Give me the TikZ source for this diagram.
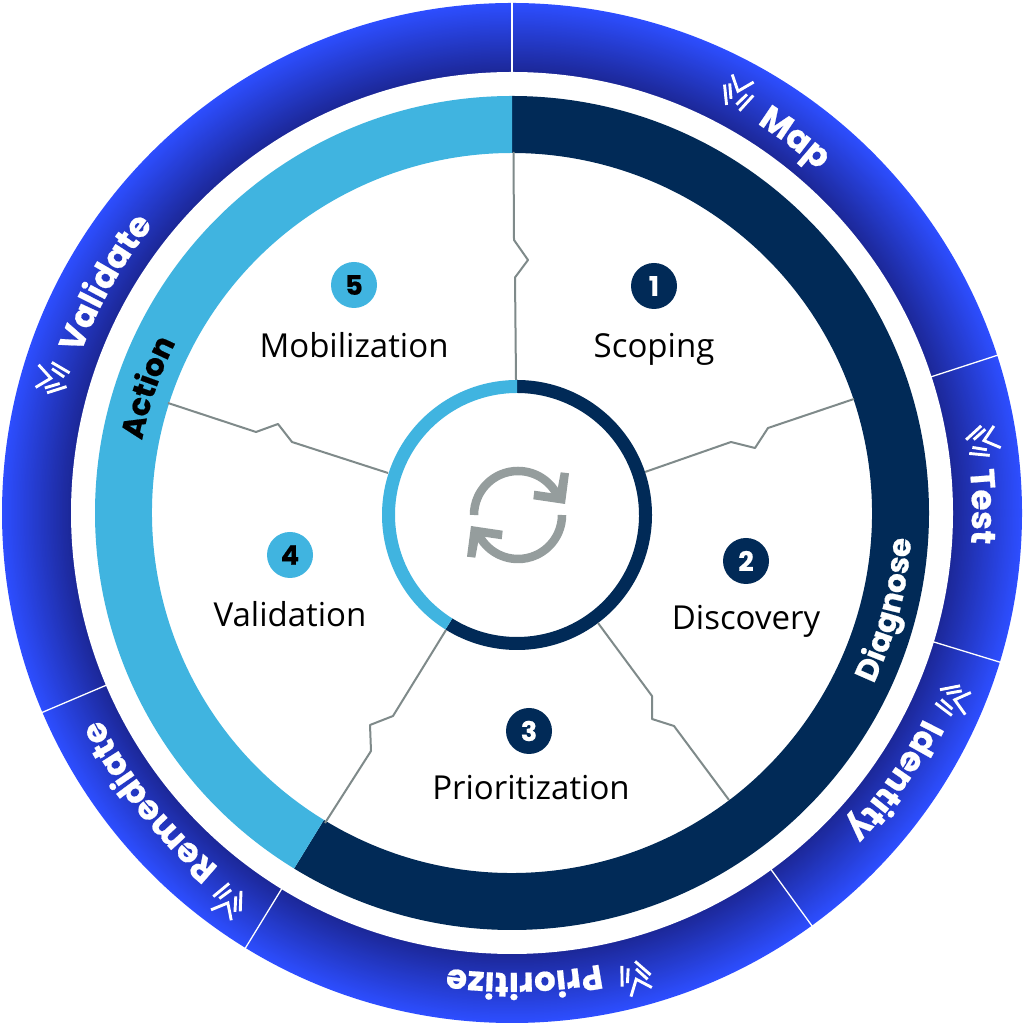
\documentclass[tikz,border=0pt]{standalone}
\usepackage{fontspec}
\usetikzlibrary{decorations.text}
\setmainfont{Open Sans}
\newfontfamily\pop{Poppins}[BoldFeatures={FakeBold=0.6}]
\definecolor{navy}{HTML}{012A57}
\definecolor{sky}{HTML}{40B4E0}
\definecolor{seam}{HTML}{7F8A8A}
\definecolor{loopgrey}{HTML}{959D9D}
\definecolor{ringin}{HTML}{1C2899}
\definecolor{ringout}{HTML}{2D4EFF}
\newcommand\ringfont{\pop\bfseries\fontsize{34}{34}\selectfont\color{white}}
\newcommand\bandwhite{\pop\bfseries\fontsize{31}{31}\selectfont\color{white}}
\newcommand\bandblack{\pop\bfseries\fontsize{31}{31}\selectfont\color{black}}
\newcommand\cwtext[4]{% mid angle, half span, radius, text
  \pgfmathsetmacro\aa{#1+#2}\pgfmathsetmacro\ab{#1-#2}
  \path[shift={(c)},decorate,decoration={text along path,text align=center,text={#4}}]
    (\aa:#3pt) arc[start angle=\aa,end angle=\ab,radius=#3pt];}
\newcommand\ccwtext[4]{%
  \pgfmathsetmacro\aa{#1-#2}\pgfmathsetmacro\ab{#1+#2}
  \path[shift={(c)},decorate,decoration={text along path,text align=center,text={#4}}]
    (\aa:#3pt) arc[start angle=\aa,end angle=\ab,radius=#3pt];}
\newcommand\sprig[2]{% angle, radius
  \begin{scope}[shift={(c)},shift={(#1:#2pt)},rotate=#1-90]
    \draw[sprigline] (-14,13.5) -- (-1,1.5) -- (8.5,17);
    \draw[sprigline] (-16,1) -- (-4.5,-16);
    \draw[sprigline] (-12,4.5) -- (-3.5,-8.5);
    \draw[sprigline] (9.5,-15) -- (14.5,5);
    \draw[sprigline] (4,-11) -- (8.5,3);
  \end{scope}}
\newcommand\loophalf{%
  \draw[loopgrey,line width=8.5pt] (180:44pt) arc[start angle=180,end angle=22,radius=44pt];
  \fill[loopgrey] (42.7,42.7) -- (51,41.7) -- (47,11) -- (15.3,15.7) -- (16.3,24.3) -- (38.7,21) -- cycle;}
\tikzset{
  x=1pt,y=1pt,
  sprigline/.style={white,line width=2.9pt,miter limit=10},
  seamline/.style={seam,line width=2pt,line join=round},
  rimline/.style={white,line width=1.3pt},
  badge/.style={circle,minimum size=46pt,inner sep=0pt,font=\pop\bfseries\fontsize{27}{27}\selectfont},
  badgedark/.style={badge,fill=navy,text=white},
  badgelight/.style={badge,fill=sky,text=black},
  phase/.style={font=\fontsize{33}{33}\selectfont,text=black,inner sep=0pt,anchor=base}
}
\begin{document}
\begin{tikzpicture}
\useasboundingbox (0,0) rectangle (1024,1024);
\fill[white] (0,0) rectangle (1024,1024);
\coordinate (c) at (512,511);
\coordinate (h) at (517,509);
% outer ring: nested discs give the radial gradient
\foreach \k in {45,44,...,0}{
  \pgfmathsetmacro\rr{441+(\k+1)*1.5}
  \pgfmathsetmacro\mixpc{\k/45*100}
  \fill[color=ringout!\mixpc!ringin] (c) circle[radius=\rr pt];
}
\fill[white] (c) circle[radius=441pt];
\foreach \t in {90,18,-17,-54,-121.5,-157}
  \draw[rimline,shift={(c)}] (\t:440pt) -- (\t:511pt);
% middle band
\fill[navy,shift={(c)}] (90:417pt) arc[start angle=90,end angle=-121.5,radius=417pt]
   -- (-121.5:360pt) arc[start angle=-121.5,end angle=90,radius=360pt] -- cycle;
\fill[sky,shift={(c)}] (90:417pt) arc[start angle=90,end angle=238.5,radius=417pt]
   -- (238.5:360pt) arc[start angle=238.5,end angle=90,radius=360pt] -- cycle;
% hub ring
\fill[navy,shift={(h)}] (90:135pt) arc[start angle=90,end angle=-122,radius=135pt]
   -- (-122:122pt) arc[start angle=-122,end angle=90,radius=122pt] -- cycle;
\fill[sky,shift={(h)}] (90:135pt) arc[start angle=90,end angle=238,radius=135pt]
   -- (238:122pt) arc[start angle=238,end angle=90,radius=122pt] -- cycle;
% refresh icon
\begin{scope}[shift={(518,509)}]\loophalf\end{scope}
\begin{scope}[shift={(518,509)},rotate=180]\loophalf\end{scope}
\begin{scope}[shift={(0,1024)},y=-1pt]
  \coordinate (s1a) at (513.5,152); \coordinate (s1b) at (516,380);
  \coordinate (s2a) at (854,399);   \coordinate (s2b) at (645,472);
  \coordinate (s3a) at (598,623);   \coordinate (s3b) at (729,800);
  \coordinate (s4a) at (446,630);   \coordinate (s4b) at (325,823);
  \coordinate (s5a) at (168,403);   \coordinate (s5b) at (388,473);
  \draw[seamline] (s1a) -- (514,240) -- (528,260) -- (515,277.5) -- (s1b);
  \draw[seamline] (s2a) -- (768,428) -- (755,448) -- (731,442) -- (s2b);
  \draw[seamline] (s3a) -- (652,696) -- (652,719) -- (674,726) -- (s3b);
  \draw[seamline] (s4a) -- (393,716) -- (370,725) -- (371,751) -- (s4b);
  \draw[seamline] (s5a) -- (256,432) -- (278,424) -- (292,442) -- (s5b);
  \node[badgedark]  (n1) at (654,286) {1};
  \node[badgedark]  (n2) at (746,561) {2};
  \node[badgedark]  (n3) at (529,731) {3};
  \node[badgelight] (n4) at (290,555) {4};
  \node[badgelight] (n5) at (354,285) {5};
  \node[phase] (t1) at (654,358) {Scoping};
  \node[phase] (t2) at (746,630) {Discovery};
  \node[phase] (t3) at (531,800) {Prioritization};
  \node[phase] (t4) at (290,627) {Validation};
  \node[phase] (t5) at (354,358) {Mobilization};
\end{scope}
% band labels
\ccwtext{-14.5}{40}{400}{|\bandwhite|Diagnose}
\cwtext{161}{40}{377}{|\bandblack|Action}
% ring labels
\cwtext{53}{30}{460}{|\ringfont|Map}
\cwtext{0.8}{30}{460}{|\ringfont|Test}
\cwtext{-35}{30}{460}{|\ringfont|Identity}
\cwtext{-88.5}{35}{460}{|\ringfont|Prioritize}
\cwtext{-141.5}{30}{460}{|\ringfont|Remediate}
\cwtext{150.5}{35}{460}{|\ringfont|Validate}
% sprigs
\sprig{61.7}{477}
\sprig{8.6}{476}
\sprig{-23}{479}
\sprig{-75.2}{481}
\sprig{-126.2}{481}
\sprig{163.6}{479}
\end{tikzpicture}
\end{document}
